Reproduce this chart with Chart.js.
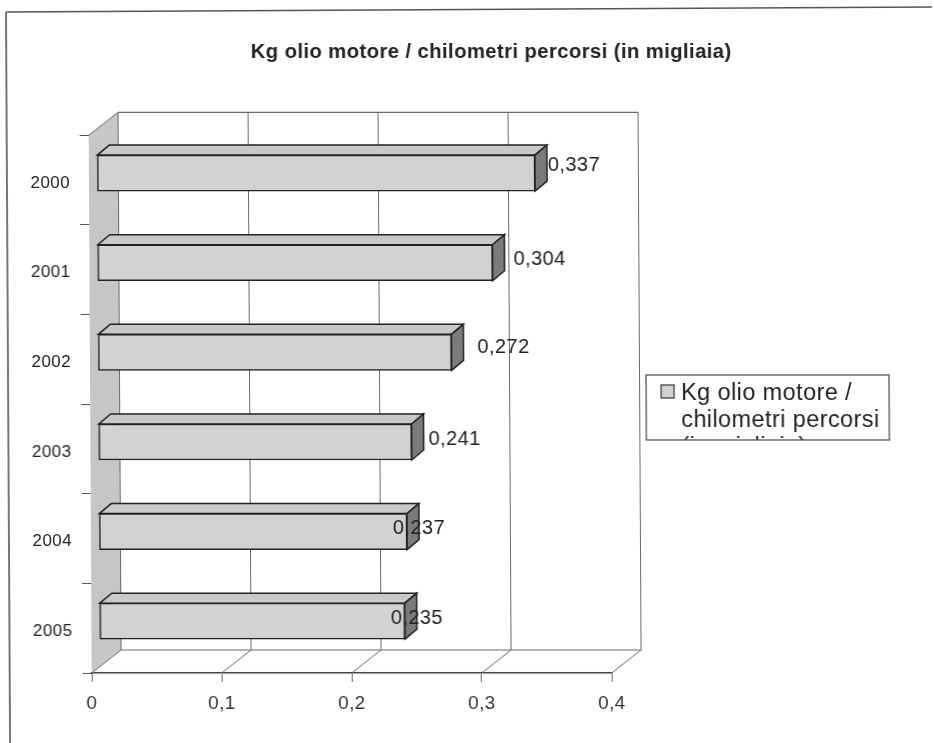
<!DOCTYPE html>
<html>
<head>
<meta charset="utf-8">
<title>Kg olio motore</title>
<script src="https://cdn.jsdelivr.net/npm/chart.js@4"></script>
<style>
    html, body { margin: 0; padding: 0; background: #fff; overflow: hidden; }
    #wrap { width: 934px; height: 743px; transform: skewX(0.32deg); filter: blur(0.35px); }
</style>
</head>
<body>
<div id="wrap"><canvas id="chart" width="934" height="743"></canvas></div>
<script>
const titleText = 'Kg olio motore / chilometri percorsi (in migliaia)';
const years = ['2000', '2001', '2002', '2003', '2004', '2005'];
const oilValues = [0.337, 0.304, 0.272, 0.241, 0.237, 0.235];
const legendLines = ['Kg olio motore /', 'chilometri percorsi', '(in migliaia)'];

// where each value label sits relative to the end of its bar, the original is uneven
const labelShiftX = [13, 21, 26, 17, -14, -14];
const labelShiftY = [-8, -3, -5, -2, -3, -3];

const FONT = '"Liberation Sans", Arial, sans-serif';
const depthX = 29.5, depthY = -23;      // wall depth
const barX = 8, barY = -7;              // bars stand a bit behind the front plane
const faceX = 12, faceY = -10;          // bar depth
const ink = '#222';
const lineGray = '#6a6a6a';

function fmt(v) {
    return String(v).replace('.', ',');
}

function line(ctx, x1, y1, x2, y2, color, width) {
    ctx.strokeStyle = color;
    ctx.lineWidth = width;
    ctx.beginPath();
    ctx.moveTo(x1, y1);
    ctx.lineTo(x2, y2);
    ctx.stroke();
}

function poly(ctx, pts, fill) {
    ctx.fillStyle = fill;
    ctx.strokeStyle = ink;
    ctx.lineWidth = 1.5;
    ctx.beginPath();
    pts.forEach((p, i) => i ? ctx.lineTo(p[0], p[1]) : ctx.moveTo(p[0], p[1]));
    ctx.closePath();
    ctx.fill();
    ctx.stroke();
}

const scene3d = {
    id: 'scene3d',
    afterLayout(chart) {
        // title is centred over the whole picture, not the plot
        chart.titleBlock.left = 0;
        chart.titleBlock.right = 986;
    },
    beforeDraw(chart) {
        // scanned text runs wide
        chart.ctx.letterSpacing = '0.4px';
    },
    beforeDatasetsDraw(chart) {
        const ctx = chart.ctx, xs = chart.scales.x, ys = chart.scales.y;
        const top = ys.top, bottom = ys.bottom;
        const x0 = xs.getPixelForValue(0);

        // outer frame of the pasted chart
        line(ctx, 8, 12, 8, 743, '#555', 1.6);
        line(ctx, 8, 12, 934, 7, '#555', 1.6);

        // grey side wall
        ctx.fillStyle = '#c6c6c6';
        ctx.beginPath();
        ctx.moveTo(x0, top);
        ctx.lineTo(x0 + depthX, top + depthY);
        ctx.lineTo(x0 + depthX, bottom + depthY);
        ctx.lineTo(x0, bottom);
        ctx.closePath();
        ctx.fill();

        // back wall and floor
        line(ctx, x0 + depthX, top + depthY, xs.right + depthX, top + depthY, lineGray, 1.2);
        line(ctx, x0 + depthX, bottom + depthY, xs.right + depthX, bottom + depthY, lineGray, 1.2);
        xs.ticks.forEach(t => {
            const x = xs.getPixelForValue(t.value);
            line(ctx, x + depthX, top + depthY, x + depthX, bottom + depthY, lineGray, 1);
            line(ctx, x, bottom, x + depthX, bottom + depthY, lineGray, 1);
        });
        line(ctx, x0, top, x0 + depthX, top + depthY, lineGray, 1);

        ctx.save();
        ctx.translate(barX, barY);
        chart.getDatasetMeta(0).data.forEach(bar => {
            const t = bar.y - bar.height / 2, b = bar.y + bar.height / 2;
            poly(ctx, [[bar.base, t], [bar.base + faceX, t + faceY], [bar.x + faceX, t + faceY], [bar.x, t]], '#c9c9c9');
            poly(ctx, [[bar.x, t], [bar.x + faceX, t + faceY], [bar.x + faceX, b + faceY], [bar.x, b]], '#7b7b7b');
        });
    },
    afterDatasetsDraw(chart) {
        const ctx = chart.ctx;
        ctx.restore();

        // value labels
        ctx.fillStyle = '#222';
        ctx.font = '20px ' + FONT;
        ctx.textAlign = 'left';
        ctx.textBaseline = 'middle';
        chart.getDatasetMeta(0).data.forEach((bar, i) => {
            ctx.fillText(fmt(oilValues[i]), bar.x + barX + labelShiftX[i], bar.y + barY + labelShiftY[i]);
        });

        // legend, the third line is cut off by its box like in the original
        const lx = 646, ly = 375, lw = 243, lh = 65;
        ctx.fillStyle = '#fff';
        ctx.fillRect(lx, ly, lw, lh);
        ctx.save();
        ctx.beginPath();
        ctx.rect(lx, ly, lw, lh);
        ctx.clip();
        ctx.fillStyle = '#222';
        ctx.font = '23.5px ' + FONT;
        ctx.textBaseline = 'alphabetic';
        legendLines.forEach((txt, i) => ctx.fillText(txt, lx + 35, ly + 25 + i * 27));
        ctx.restore();
        ctx.strokeStyle = '#555';
        ctx.lineWidth = 1.3;
        ctx.strokeRect(lx, ly, lw, lh);
        ctx.fillStyle = chart.data.datasets[0].backgroundColor;
        ctx.fillRect(lx + 15, ly + 10, 13, 13);
        ctx.strokeStyle = '#444';
        ctx.strokeRect(lx + 15, ly + 10, 13, 13);
    }
};

new Chart(document.getElementById('chart'), {
    type: 'bar',
    data: {
        labels: years,
        datasets: [{
            label: legendLines.join(' '),
            data: oilValues,
            backgroundColor: '#d2d2d2',
            borderColor: ink,
            borderWidth: 1.5,
            barThickness: 36,
            borderSkipped: false
        }]
    },
    plugins: [scene3d],
    options: {
        indexAxis: 'y',
        responsive: false,
        animation: false,
        layout: { padding: { left: 0, top: 0, right: 324, bottom: 0 } },
        plugins: {
            legend: { display: false },
            tooltip: { enabled: false },
            title: {
                display: true,
                text: titleText,
                color: '#222',
                font: { family: FONT, size: 20.3, weight: 'bold', lineHeight: 1 },
                padding: { top: 42, bottom: 73 }
            }
        },
        scales: {
            x: {
                min: 0,
                max: 0.4,
                afterFit: s => { s.height = 70; },
                border: { color: '#444', width: 1.5 },
                grid: { drawOnChartArea: false, color: '#666', tickLength: 9 },
                ticks: {
                    stepSize: 0.1,
                    padding: 10,
                    color: '#333',
                    maxRotation: 0,
                    font: { family: FONT, size: 19 },
                    callback: v => fmt(Math.round(v * 10) / 10)
                }
            },
            y: {
                afterFit: s => { s.width = 90; },
                border: { color: 'rgba(0,0,0,0)' },
                grid: { drawOnChartArea: false, color: '#555', tickLength: 9 },
                ticks: {
                    padding: 10,
                    labelOffset: 3,
                    color: '#222',
                    font: { family: FONT, size: 17 }
                }
            }
        }
    }
});
</script>
</body>
</html>
